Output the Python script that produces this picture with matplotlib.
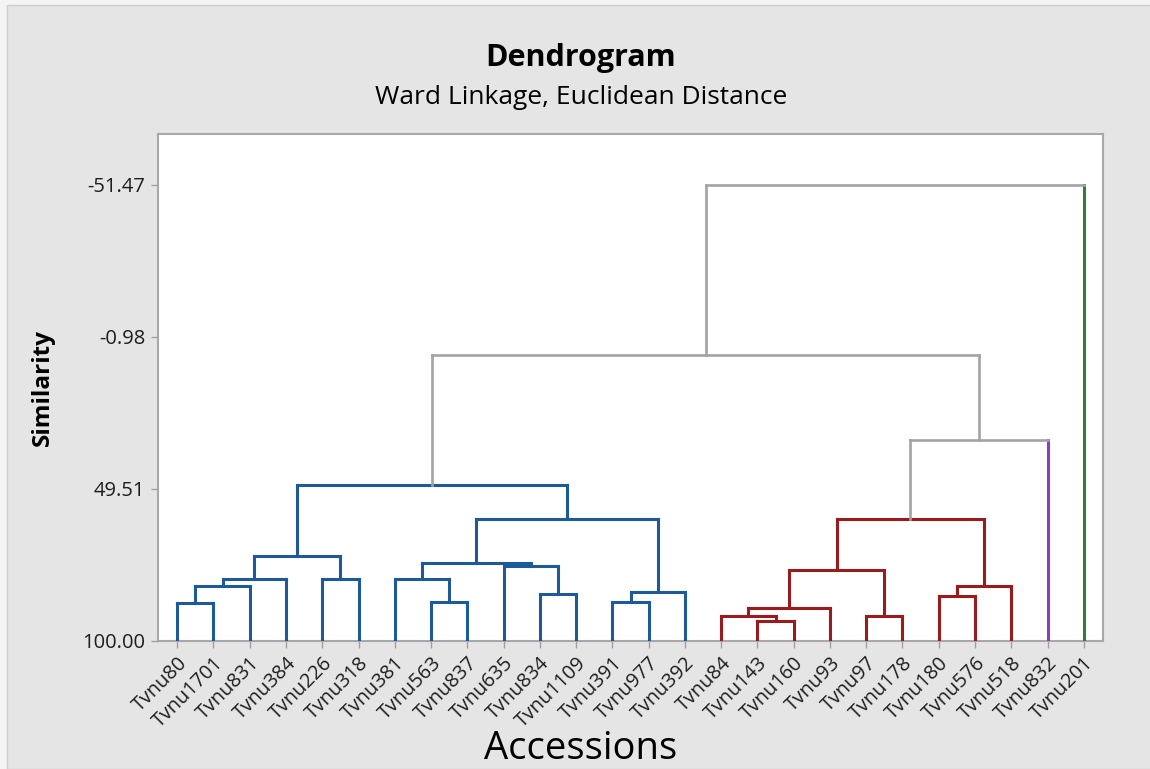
import matplotlib.pyplot as plt
from matplotlib.patches import Rectangle

plt.rcParams['font.family'] = ['Open Sans', 'DejaVu Sans']

# accessions in dendrogram order
labels = ['Tvnu80', 'Tvnu1701', 'Tvnu831', 'Tvnu384', 'Tvnu226', 'Tvnu318',
          'Tvnu381', 'Tvnu563', 'Tvnu837', 'Tvnu635', 'Tvnu834', 'Tvnu1109',
          'Tvnu391', 'Tvnu977', 'Tvnu392', 'Tvnu84', 'Tvnu143', 'Tvnu160',
          'Tvnu93', 'Tvnu97', 'Tvnu178', 'Tvnu180', 'Tvnu576', 'Tvnu518',
          'Tvnu832', 'Tvnu201']
# final cluster of each accession
clusters = [1] * 15 + [2] * 9 + [3, 4]

# merges: node ids (leaves 0..25, new nodes from 26 on) and similarity level
merge_left = [0, 26, 27, 4, 28, 7, 6, 10, 9, 32, 12, 36, 35, 30,
              16, 15, 41, 19, 42, 21, 45, 44, 47, 39, 49]
merge_right = [1, 2, 3, 5, 29, 8, 31, 11, 33, 34, 13, 14, 37, 38,
               17, 40, 18, 20, 43, 22, 23, 46, 24, 48, 25]
merge_sim = [87.48, 81.63, 79.41, 79.41, 71.67, 87.14, 79.41, 84.39, 74.99,
             74.19, 87.14, 83.62, 59.57, 48.18,
             93.36, 91.70, 88.94, 91.70, 76.42, 85.05, 81.63, 59.48,
             33.23, 5.00, -51.47]

yticks = [-51.47, -0.98, 49.51, 100.00]

cluster_colors = {1: '#1f5a98', 2: '#981c1e', 3: '#8a3fbf', 4: '#2e7f3c'}
link_gray = '#a3a3a3'

fig = plt.figure(figsize=(11.5, 7.69), dpi=100, facecolor='#f4f4f4')
bg = Rectangle((7 / 1150, 0), 1, 1 - 5 / 769, transform=fig.transFigure,
               facecolor='#e5e5e5', edgecolor='#cdcdcd', lw=1, zorder=-10)
fig.add_artist(bg)
ax = fig.add_axes([158 / 1150, 1 - 641 / 769, 945 / 1150, 507 / 769])
ax.set_facecolor('white')

n = len(labels)
xpos = {i: i + 1 for i in range(n)}
ypos = {i: 100.0 for i in range(n)}
members = {i: {clusters[i]} for i in range(n)}

for k, (a, b, s) in enumerate(zip(merge_left, merge_right, merge_sim)):
    node = n + k
    members[node] = members[a] | members[b]
    col = cluster_colors[next(iter(members[node]))] if len(members[node]) == 1 else link_gray
    lw = 2.2 if col != link_gray else 1.9
    for c in (a, b):
        vcol = cluster_colors[clusters[c]] if c < n else col
        ax.plot([xpos[c], xpos[c]], [ypos[c], s], color=vcol, lw=2.2 if vcol != link_gray else 1.9,
                solid_capstyle='projecting', zorder=3)
    ax.plot([xpos[a], xpos[b]], [s, s], color=col, lw=lw, solid_capstyle='projecting', zorder=3)
    xpos[node] = (xpos[a] + xpos[b]) / 2
    ypos[node] = s

ax.set_xlim(0.47, n + 0.53)
ax.set_ylim(100, -68.4)
ax.set_yticks(yticks)
ax.set_yticklabels([f'{v:.2f}' for v in yticks], fontsize=14.5, color='#1e1e1e')
ax.set_xticks(range(1, n + 1))
ax.set_xticklabels(labels, rotation=45, ha='right', rotation_mode='anchor',
                   fontsize=14.3, color='#1e1e1e')
ax.tick_params(axis='both', direction='out', length=5, width=1, color='#a0a0a0', pad=4)

for sp in ax.spines.values():
    sp.set_color('#a8a8a8')
    sp.set_linewidth(1.5)

ax.set_ylabel('Similarity', fontsize=17.5, fontweight='bold')
ax.yaxis.set_label_coords(-0.109, 0.5)
ax.set_xlabel('Accessions', fontsize=27.5, va='baseline')
ax.xaxis.set_label_coords(0.4476, -0.2335)

fig.text(581 / 1150, 1 - 58 / 769, 'Dendrogram', ha='center', va='center',
         fontsize=22, fontweight='bold')
fig.text(581 / 1150, 1 - 97 / 769, 'Ward Linkage, Euclidean Distance', ha='center',
         va='center', fontsize=19)

fig.savefig('out.png', dpi=100, facecolor=fig.get_facecolor())
